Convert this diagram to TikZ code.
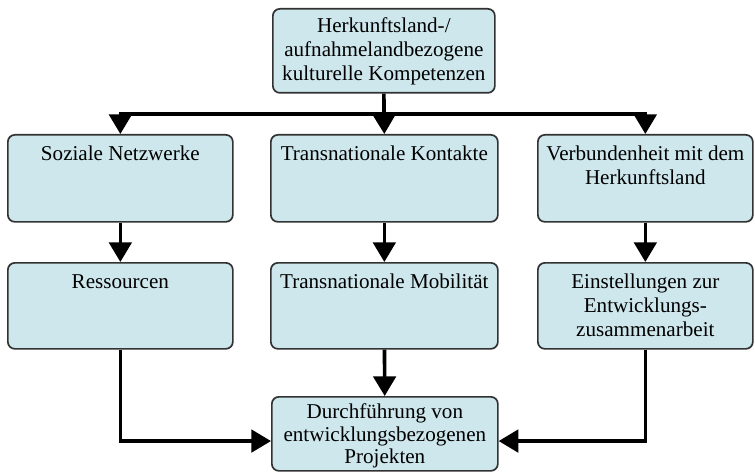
\documentclass[tikz,border=0pt]{standalone}
\usepackage{fontspec}
\setmainfont{Liberation Serif}
\usepackage{tikz}
\usetikzlibrary{arrows.meta}
\definecolor{kastenblau}{RGB}{205,231,236}
\definecolor{kastenrand}{RGB}{50,50,50}
\newlength{\pxe}
\setlength{\pxe}{0.025cm}
\newcommand{\kastentext}[4][26]{\parbox[t][#3\pxe][t]{#2\pxe}{\centering\rule{0pt}{#1\pxe}#4}}
\tikzset{
  kasten/.style = {draw=kastenrand, fill=kastenblau, line width=1.2pt,
    rounded corners=5pt, inner sep=0pt, anchor=north west,
    font=\fontsize{15}{17}\selectfont},
  pfeil/.style = {line width=2.6pt, -{Triangle[length=14pt, width=16pt]}}
}
\begin{document}
\begin{tikzpicture}[x=0.025cm, y=-0.025cm]
\useasboundingbox (0,0) rectangle (755,472);
\node [kasten] (oben) at (272,8) {\kastentext[24]{222}{84}{Herkunftsland-/\\aufnahmelandbezogene\\kulturelle Kompetenzen}};
\node [kasten] (netz) at (7,134) {\kastentext{225}{87}{Soziale Netzwerke}};
\node [kasten] (kontakte) at (270,134) {\kastentext{227}{87}{Transnationale Kontakte}};
\node [kasten] (bindung) at (537,134) {\kastentext{215}{87}{Verbundenheit mit dem\\Herkunftsland}};
\node [kasten] (ressourcen) at (7,262) {\kastentext{225}{86}{Ressourcen}};
\node [kasten] (mobil) at (270,262) {\kastentext{227}{86}{Transnationale Mobilität}};
\node [kasten] (einstellung) at (537,262) {\kastentext{215}{86}{Einstellungen zur\\Entwicklungs-\\zusammenarbeit}};
\node [kasten, font=\fontsize{15}{16}\selectfont] (projekte) at (271,396) {\kastentext[22]{226}{74}{Durchführung von\\entwicklungsbezogenen\\Projekten}};
\coordinate (verteiler) at (oben.south |- 0,114);

\draw [pfeil] (oben.south) -- (kontakte.north);
\draw [pfeil] (verteiler) -| (netz.north);
\draw [pfeil] (verteiler) -| (bindung.north);
\draw [pfeil] (netz) -- (ressourcen);
\draw [pfeil] (kontakte) -- (mobil);
\draw [pfeil] (bindung) -- (einstellung);
\draw [pfeil] (mobil) -- (projekte);
\draw [pfeil] (ressourcen.south) |- ([yshift=-0.18cm]projekte.west);
\draw [pfeil] (einstellung.south) |- ([yshift=-0.18cm]projekte.east);
\end{tikzpicture}
\end{document}
